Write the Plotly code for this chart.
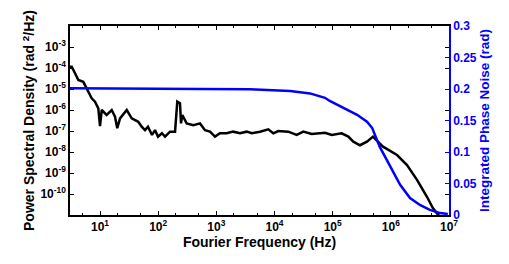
import plotly.graph_objects as go

# PSD (black) data
psd_freq = [3.05, 3.26, 3.72, 4.24, 5.16, 5.90, 7.19, 8.20, 9.35, 10.0, 10.7, 13.0, 15.9, 18.1,
            19.8, 22.1, 28.8, 35.1, 45.5, 52.0, 59.4, 66.8, 78.3, 88.3, 99.3, 116, 131, 160, 195,
            213, 237, 247, 260, 309, 402, 524, 638, 778, 948, 1156, 1507, 1932, 2553, 3327,
            4055, 5636, 7816, 9528, 11614, 17258, 24044, 31261, 43551, 73790, 96161, 142889,
            185780, 226464, 295121, 389045, 493174, 732825, 1276439, 1896717, 2818383,
            4178303, 5308844, 6208690, 7277798]
psd_val = [1.15e-4, 1.15e-4, 5.6e-5, 2.7e-5, 2.2e-5, 1.07e-5, 3.6e-6, 2.5e-6, 1.2e-6, 1.7e-7,
           1.0e-6, 5.8e-7, 1.0e-6, 4.8e-7, 1.35e-7, 4.0e-7, 1.0e-6, 4.0e-7, 2.75e-7, 1.6e-7,
           1.1e-7, 1.6e-7, 6.5e-8, 1.1e-7, 5.4e-8, 7.8e-8, 5.4e-8, 9.3e-8, 9.3e-8, 2.5e-6,
           2.1e-6, 2.3e-7, 5.8e-7, 2.3e-7, 1.9e-7, 2.3e-7, 1.1e-7, 9.3e-8, 5.4e-8, 7.8e-8,
           7.8e-8, 9.3e-8, 7.8e-8, 9.3e-8, 7.8e-8, 9.3e-8, 1.2e-7, 7.8e-8, 1.0e-7, 9.3e-8,
           6.5e-8, 9.3e-8, 7.2e-8, 8.3e-8, 6.5e-8, 7.8e-8, 5.4e-8, 3.1e-8, 2.1e-8, 3.1e-8,
           5.4e-8, 1.8e-8, 7.2e-9, 2.4e-9, 4.7e-10, 7.4e-11, 2.1e-11, 1.2e-11, 7.2e-12]

# Integrated phase noise (blue) data
ipn_freq = [3.05, 237, 524, 3802, 18621, 40738, 73790, 89125, 151356, 263027, 389045,
            478630, 645654, 977237, 1445440, 2137962, 3162278, 4677351, 7079458, 9549926]
ipn_val = [0.201, 0.201, 0.200, 0.1995, 0.197, 0.193, 0.186, 0.181, 0.170, 0.159, 0.148,
           0.138, 0.108, 0.076, 0.048, 0.027, 0.016, 0.008, 0.003, 0.0016]

x_tickvals = [10, 100, 1e3, 1e4, 1e5, 1e6, 1e7]
x_ticktext = ["10<sup>1</sup>", "10<sup>2</sup>", "10<sup>3</sup>", "10<sup>4</sup>",
              "10<sup>5</sup>", "10<sup>6</sup>", "10<sup>7</sup>"]
y_tickvals = [1e-11, 1e-10, 1e-9, 1e-8, 1e-7, 1e-6, 1e-5, 1e-4, 1e-3, 1e-2]
y_ticktext = ["", "10<sup>-10</sup>", "10<sup>-9</sup>", "10<sup>-8</sup>", "10<sup>-7</sup>",
              "10<sup>-6</sup>", "10<sup>-5</sup>", "10<sup>-4</sup>", "10<sup>-3</sup>", ""]
y2_tickvals = [0, 0.05, 0.1, 0.15, 0.2, 0.25, 0.3]
y2_ticktext = ["0", "0.05", "0.1", "0.15", "0.2", "0.25", "0.3"]

FONT = "Arial, Liberation Sans, sans-serif"
BLUE = "#0000FF"

fig = go.Figure()
fig.add_trace(go.Scatter(x=psd_freq, y=psd_val, mode="lines",
                         line=dict(color="black", width=2.5), showlegend=False))
fig.add_trace(go.Scatter(x=ipn_freq, y=ipn_val, mode="lines", yaxis="y2",
                         line=dict(color=BLUE, width=2.5), showlegend=False))

fig.update_layout(
    width=501, height=256,
    margin=dict(l=62, r=60, t=18, b=49, autoexpand=False),
    paper_bgcolor="white", plot_bgcolor="white",
    font=dict(family=FONT, size=12, color="black", weight="bold"),
    xaxis=dict(type="log", range=[0.484, 7], tickvals=x_tickvals, ticktext=x_ticktext,
               ticks="inside", ticklen=4, tickcolor="black", showgrid=False, zeroline=False,
               showline=True, linecolor="black", linewidth=1.5, mirror="ticks",
               automargin=False,
               minor=dict(ticks="inside", ticklen=2, tickcolor="black", showgrid=False),
               tickfont=dict(family=FONT, size=12, weight="bold"),
               title=dict(text="Fourier Frequency (Hz)", standoff=2,
                          font=dict(family=FONT, size=14, weight="bold"))),
    yaxis=dict(type="log", range=[-11, -2], tickvals=y_tickvals, ticktext=y_ticktext,
               ticks="inside", ticklen=4, tickcolor="black", showgrid=False, zeroline=False,
               showline=True, linecolor="black", linewidth=1.5, mirror="ticks",
               automargin=False,
               tickfont=dict(family=FONT, size=12, weight="bold"),
               title=dict(text="Power Spectral Density (rad <sup>2</sup>/Hz)", standoff=2,
                          font=dict(family=FONT, size=14, weight="bold"))),
    yaxis2=dict(overlaying="y", side="right", range=[0, 0.3], tickvals=y2_tickvals,
                ticktext=y2_ticktext, ticks="inside", ticklen=4, tickcolor=BLUE,
                showgrid=False, zeroline=False, showline=True, linecolor=BLUE, linewidth=1.5,
                automargin=False,
                tickfont=dict(family=FONT, size=12, color=BLUE, weight="bold"),
                title=dict(text="Integrated Phase Noise (rad)", standoff=2,
                           font=dict(family=FONT, size=13.5, color=BLUE, weight="bold"))),
)

fig.write_html("out.html")
